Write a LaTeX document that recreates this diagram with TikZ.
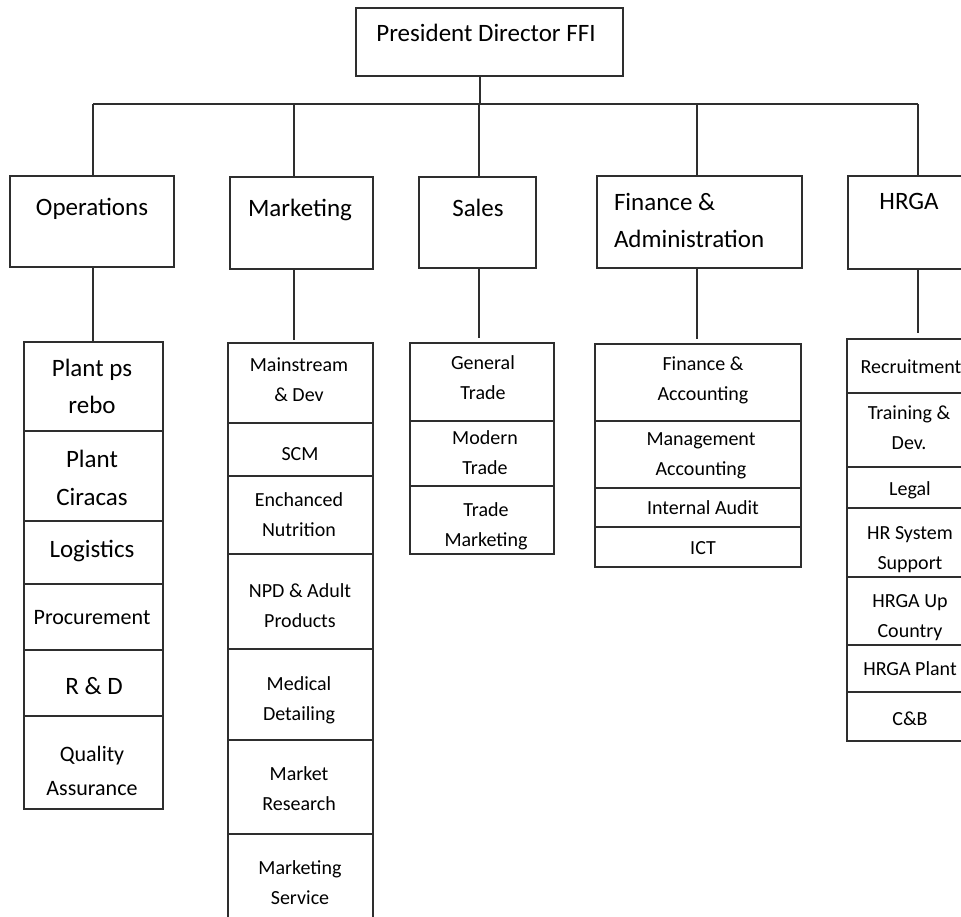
\documentclass[tikz,border=0pt]{standalone}
\usepackage{fontspec}
\setmainfont{Carlito}
\definecolor{linec}{gray}{0.18}
\tikzset{
  box/.style={draw=linec, line width=1.2pt, inner sep=0pt, outer sep=0pt, anchor=north west},
  txt/.style={align=center, inner sep=0pt, outer sep=0pt, text=black, yshift=-1.5pt},
  fbig/.style={font=\fontsize{25}{37}\selectfont},
  fmid/.style={font=\fontsize{22}{34}\selectfont},
  fsmall/.style={font=\fontsize{20}{30}\selectfont},
  conn/.style={draw=linec, line width=1.2pt}
}
\begin{document}
\begin{tikzpicture}[x=1pt,y=-1pt]
\clip (0,0) rectangle (961,917);
% top level boxes
\node[box, minimum width=267, minimum height=68] (pres) at (356,8) {};
\node[box, minimum width=164, minimum height=91] (ops) at (10,176) {};
\node[box, minimum width=143, minimum height=92] (mkt) at (230,177) {};
\node[box, minimum width=117, minimum height=91] (sal) at (419,177) {};
\node[box, minimum width=205, minimum height=92] (fin) at (597,176) {};
\node[box, minimum width=140, minimum height=93] (hr) at (848,176) {};
% top level texts
\node[txt, fbig] (tpres) at (486,33) {\strut President Director FFI};
\node[txt, fbig] (tops) at (92,207) {\strut Operations};
\node[txt, fbig] (tmkt) at (300,208) {\strut Marketing};
\node[txt, fbig] (tsal) at (478,208) {\strut Sales};
\node[txt, fbig, align=left, anchor=west] (tfin) at (614,220) {\strut Finance \&\\\strut Administration};
\node[txt, fbig] (thr) at (909,201) {\strut HRGA};
% connectors level 1
\coordinate (bp) at (480,104);
\coordinate (b1) at (93,104);
\coordinate (b2) at (294,104);
\coordinate (b3) at (479,104);
\coordinate (b4) at (697,104);
\coordinate (b5) at (918,104);
\draw[conn] (bp |- pres.south) -- (bp);
\draw[conn] (b1) -- (b5);
\draw[conn] (b1) -- (b1 |- ops.north);
\draw[conn] (b2) -- (b2 |- mkt.north);
\draw[conn] (b3) -- (b3 |- sal.north);
\draw[conn] (b4) -- (b4 |- fin.north);
\draw[conn] (b5) -- (b5 |- hr.north);
% Operations list
\node[box, minimum width=139, minimum height=89] (o1) at (24,342) {};
\node[box, minimum width=139, minimum height=90] (o2) at (24,431) {};
\node[box, minimum width=139, minimum height=63] (o3) at (24,521) {};
\node[box, minimum width=139, minimum height=66] (o4) at (24,584) {};
\node[box, minimum width=139, minimum height=66] (o5) at (24,650) {};
\node[box, minimum width=139, minimum height=93] (o6) at (24,716) {};
\node[txt, fbig] (to1) at (92,386.5) {\strut Plant ps\\\strut rebo};
\node[txt, font=\fontsize{25}{38}\selectfont] (to2) at (92,477) {\strut Plant\\\strut Ciracas};
\node[txt, fbig] (to3) at (92,549) {\strut Logistics};
\node[txt, fmid] (to4) at (92,616) {\strut Procurement};
\node[txt, fbig] (to5) at (94,686) {\strut R \& D};
\node[txt, fmid] (to6) at (92,770) {\strut Quality\\\strut Assurance};
% Marketing list
\node[box, minimum width=145, minimum height=80] (m1) at (228,343) {};
\node[box, minimum width=145, minimum height=53] (m2) at (228,423) {};
\node[box, minimum width=145, minimum height=78] (m3) at (228,476) {};
\node[box, minimum width=145, minimum height=95] (m4) at (228,554) {};
\node[box, minimum width=145, minimum height=91] (m5) at (228,649) {};
\node[box, minimum width=145, minimum height=94] (m6) at (228,740) {};
\node[box, minimum width=145, minimum height=96] (m7) at (228,834) {};
\node[txt, fsmall] (tm1) at (299,378.5) {\strut Mainstream\\\strut \& Dev};
\node[txt, fsmall] (tm2) at (300,453) {\strut SCM};
\node[txt, fsmall] (tm3) at (299,513.5) {\strut Enchanced\\\strut Nutrition};
\node[txt, fsmall] (tm4) at (300,605) {\strut NPD \& Adult\\\strut Products};
\node[txt, fsmall] (tm5) at (299,697.5) {\strut Medical\\\strut Detailing};
\node[txt, fsmall] (tm6) at (299,788) {\strut Market\\\strut Research};
\node[txt, fsmall] (tm7) at (300,882) {\strut Marketing\\\strut Service};
% Sales list
\node[box, minimum width=144, minimum height=78] (s1) at (410,343) {};
\node[box, minimum width=144, minimum height=65] (s2) at (410,421) {};
\node[box, minimum width=144, minimum height=68] (s3) at (410,486) {};
\node[txt, fsmall] (ts1) at (483,377) {\strut General\\\strut Trade};
\node[txt, fsmall] (ts2) at (485,451.5) {\strut Modern\\\strut Trade};
\node[txt, fsmall] (ts3) at (486,523.5) {\strut Trade\\\strut Marketing};
% Finance list
\node[box, minimum width=206, minimum height=77] (f1) at (595,344) {};
\node[box, minimum width=206, minimum height=67] (f2) at (595,421) {};
\node[box, minimum width=206, minimum height=39] (f3) at (595,488) {};
\node[box, minimum width=206, minimum height=40] (f4) at (595,527) {};
\node[txt, fsmall] (tf1) at (703,378) {\strut Finance \&\\\strut Accounting};
\node[txt, fsmall] (tf2) at (701,453) {\strut Management\\\strut Accounting};
\node[txt, fsmall] (tf3) at (703,507) {\strut Internal Audit};
\node[txt, fsmall] (tf4) at (703,547) {\strut ICT};
% HRGA list
\node[box, minimum width=128, minimum height=54] (h1) at (847,339) {};
\node[box, minimum width=128, minimum height=74] (h2) at (847,393) {};
\node[box, minimum width=128, minimum height=41] (h3) at (847,467) {};
\node[box, minimum width=128, minimum height=69] (h4) at (847,508) {};
\node[box, minimum width=128, minimum height=68] (h5) at (847,577) {};
\node[box, minimum width=128, minimum height=47] (h6) at (847,645) {};
\node[box, minimum width=128, minimum height=49] (h7) at (847,692) {};
\node[txt, fsmall] (th1) at (911,366) {\strut Recruitment};
\node[txt, fsmall] (th2) at (909,427) {\strut Training \&\\\strut Dev.};
\node[txt, fsmall] (th3) at (910,488) {\strut Legal};
\node[txt, fsmall] (th4) at (910,547) {\strut HR System\\\strut Support};
\node[txt, fsmall] (th5) at (910,615) {\strut HRGA Up\\\strut Country};
\node[txt, fsmall] (th6) at (910,668) {\strut HRGA Plant};
\node[txt, fsmall] (th7) at (910,718) {\strut C\&B};
% connectors level 2
\coordinate (e3) at (479,338);
\coordinate (e4) at (697,339);
\coordinate (e5) at (918,333);
\coordinate (e2) at (294,340);
\draw[conn] (b1 |- ops.south) -- (b1 |- o1.north);
\draw[conn] (b2 |- mkt.south) -- (e2);
\draw[conn] (b3 |- sal.south) -- (e3);
\draw[conn] (b4 |- fin.south) -- (e4);
\draw[conn] (b5 |- hr.south) -- (e5);
\end{tikzpicture}
\end{document}
